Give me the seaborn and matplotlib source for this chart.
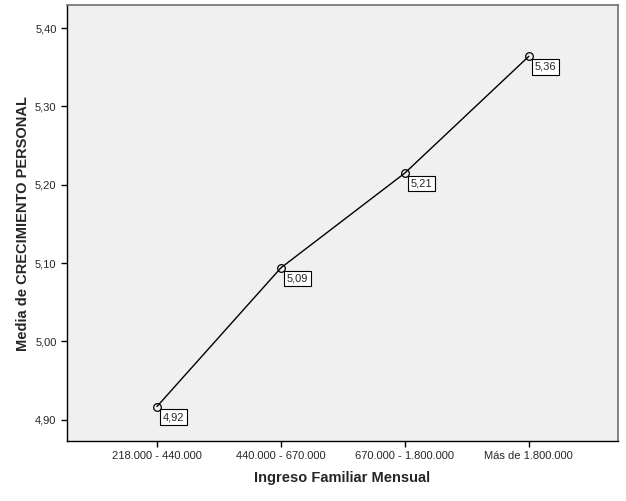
import matplotlib
matplotlib.use("Agg")
import matplotlib.pyplot as plt
import seaborn as sns
import pandas as pd

# income groups and mean personal growth score
categorias = ["218.000 - 440.000", "440.000 - 670.000", "670.000 - 1.800.000", "Más de 1.800.000"]
medias = [4.917, 5.094, 5.215, 5.364]
etiquetas = ["4,92", "5,09", "5,21", "5,36"]
yticks = [4.90, 5.00, 5.10, 5.20, 5.30, 5.40]

df = pd.DataFrame({"ingreso": range(len(categorias)), "media": medias})

sns.set_style("white")
plt.rcParams["font.family"] = ["Liberation Sans", "DejaVu Sans"]

fig = plt.figure(figsize=(6.26, 5.01), dpi=100)
ax = fig.add_axes([0.107, 0.1198, 0.880, 0.870])
ax.set_facecolor("#F0F0F0")

sns.lineplot(data=df, x="ingreso", y="media", ax=ax, color="black", linewidth=1,
             marker="o", markersize=5.5, markerfacecolor="none",
             markeredgecolor="black", markeredgewidth=0.9)

# value labels in white boxes below-right of each point
for i, (v, t) in enumerate(zip(medias, etiquetas)):
    ax.annotate(t, (i, v), xytext=(4, -4), textcoords="offset points",
                ha="left", va="top", fontsize=8,
                bbox=dict(boxstyle="square,pad=0.25", fc="white", ec="black", lw=0.8))

ax.set_xlim(-0.726, 3.718)
ax.set_ylim(4.873, 5.4293)
ax.set_xticks(range(len(categorias)))
ax.set_xticklabels(categorias, fontsize=8)
ax.set_yticks(yticks)
ax.set_yticklabels([f"{y:.2f}".replace(".", ",") for y in yticks], fontsize=8)
ax.tick_params(axis="both", direction="out", length=4.5, width=1, color="black", pad=3,
               bottom=True, left=True)

ax.set_xlabel("Ingreso Familiar Mensual", fontsize=10.5, fontweight="bold", labelpad=7)
ax.set_ylabel("Media de CRECIMIENTO PERSONAL", fontsize=10.5, fontweight="bold", labelpad=4)

for side in ["left", "bottom"]:
    ax.spines[side].set_color("black")
    ax.spines[side].set_linewidth(1)
for side in ["top", "right"]:
    ax.spines[side].set_color("#707070")
    ax.spines[side].set_linewidth(1.2)

fig.savefig("out.png", dpi=100)
